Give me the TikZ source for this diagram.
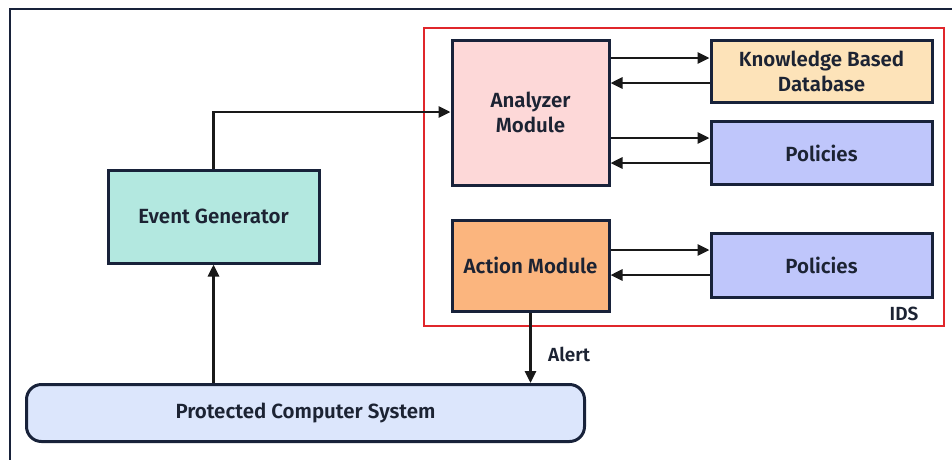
\documentclass[tikz,border=0pt]{standalone}
\usepackage{fontspec}
\setmainfont{Fira Sans}[UprightFont=* SemiBold]
\usetikzlibrary{arrows.meta}
\definecolor{navy}{HTML}{18223A}
\definecolor{idsred}{HTML}{E0262B}
\definecolor{pinkfill}{HTML}{FDD8D8}
\definecolor{peachfill}{HTML}{FDE3B9}
\definecolor{bluefill}{HTML}{BFC6FB}
\definecolor{orangefill}{HTML}{FBB57E}
\definecolor{tealfill}{HTML}{B3E8E0}
\definecolor{sysfill}{HTML}{DCE6FC}
\definecolor{txt}{HTML}{1C2333}
\tikzset{
  box/.style={draw=navy, line width=3pt, inner sep=0pt, align=center,
    text=txt, font=\fontsize{20.5}{25}\selectfont},
  lbl/.style={text=txt, font=\fontsize{19}{22}\selectfont},
  arr/.style={draw=black!90, line width=2.8pt,
    -{Triangle[length=12pt,width=11pt]}},
}
\begin{document}
\begin{tikzpicture}[x=1pt,y=-1pt]
\useasboundingbox (0,0) rectangle (952,459);
\fill[white] (0,0) rectangle (952,459);
% outer frame
\draw[navy, line width=2.2pt] (10,9) rectangle (970,475);
% IDS boundary
\draw[idsred, line width=2.5pt] (424,28) rectangle (944,326);
\node[lbl, anchor=center] (ids) at (904,314) {IDS};
% components
\node[box, fill=pinkfill, minimum width=157pt, minimum height=145pt] (analyzer) at (530.5,112.5) {Analyzer\\Module};
\node[box, fill=peachfill, minimum width=221pt, minimum height=62pt] (kb) at (821.5,71) {Knowledge Based\\Database};
\node[box, fill=bluefill, minimum width=221pt, minimum height=63pt] (pol1) at (821.5,153) {Policies};
\node[box, fill=orangefill, minimum width=157pt, minimum height=91pt] (action) at (530.5,265.5) {Action Module};
\node[box, fill=bluefill, minimum width=221pt, minimum height=64pt] (pol2) at (821.5,265.5) {Policies};
\node[box, fill=tealfill, minimum width=211pt, minimum height=93pt] (event) at (213.5,216.5) {Event Generator};
\node[box, fill=sysfill, minimum width=558pt, minimum height=57pt, rounded corners=15pt] (sys) at (305.5,413) {Protected Computer System};
% connectors
\draw[arr] (event.north) |- (analyzer.west |- 0,112);
\draw[arr] (analyzer.east |- 0,58) -- (kb.west |- 0,58);
\draw[arr] (kb.west |- 0,83) -- (analyzer.east |- 0,83);
\draw[arr] (analyzer.east |- 0,138) -- (pol1.west |- 0,138);
\draw[arr] (pol1.west |- 0,163) -- (analyzer.east |- 0,163);
\draw[arr] (action.east |- 0,250) -- (pol2.west |- 0,250);
\draw[arr] (pol2.west |- 0,275) -- (action.east |- 0,275);
\draw[arr] (sys.north -| event.south) -- (event.south);
\draw[arr] (action.south) -- (sys.north -| action.south)
  node[pos=0.6, right=13pt, lbl] (alert) {Alert};
\end{tikzpicture}
\end{document}
